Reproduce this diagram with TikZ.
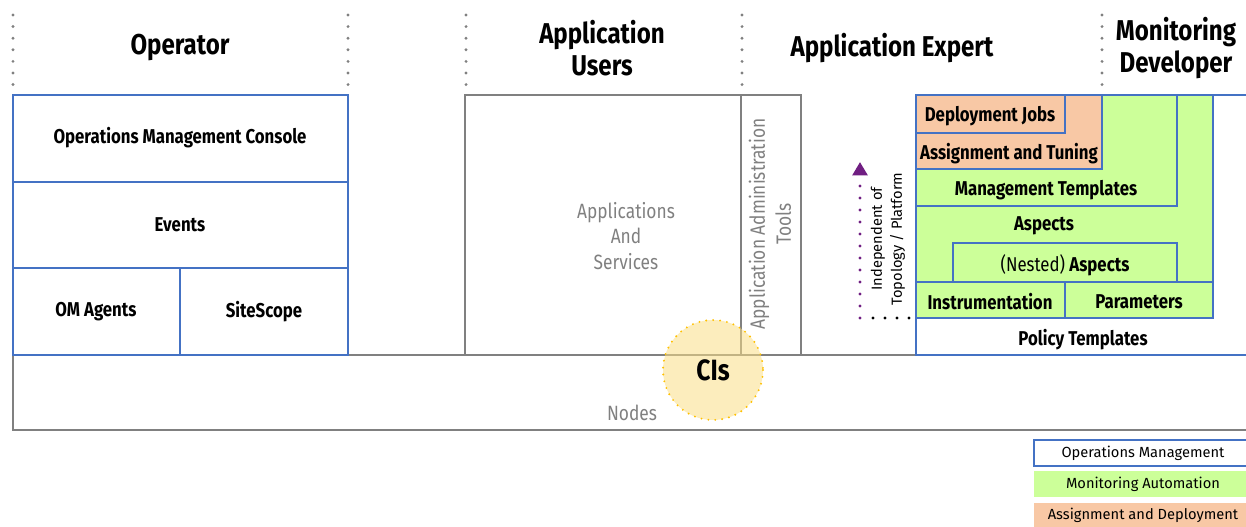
\documentclass[tikz,border=0pt]{standalone}
\usepackage{fontspec}
\setmainfont{Fira Sans}[FakeStretch=0.84]
\newfontfamily\widesans{Fira Sans}
\usepackage{tikz}
\usetikzlibrary{arrows.meta}

\definecolor{omblue}{RGB}{68,114,196}
\definecolor{magreen}{RGB}{204,255,153}
\definecolor{adorange}{RGB}{248,200,165}
\definecolor{linegray}{RGB}{128,128,128}
\definecolor{cifill}{RGB}{250,222,135}
\definecolor{cigold}{RGB}{255,192,0}
\definecolor{arrowpurple}{RGB}{112,30,130}

\tikzset{
  ombox/.style={draw=omblue, line width=1.5pt},
  graybox/.style={draw=linegray, line width=1.5pt},
  sepdots/.style={draw=linegray, line width=2.4pt, line cap=round, dash pattern=on 0pt off 8.7pt},
  headtxt/.style={font=\bfseries\fontsize{21.5}{24}\selectfont, align=center},
  boxtxt/.style={font=\bfseries\fontsize{15}{18}\selectfont, align=center},
  graytxt/.style={font=\fontsize{15.5}{19}\selectfont, text=linegray, align=center},
  legtxt/.style={font=\widesans\fontsize{11}{13}\selectfont},
}

\begin{document}
\begin{tikzpicture}[x=0.75pt,y=0.75pt,yscale=-1,xscale=1]
        \useasboundingbox (0,0) rectangle (1246,527);
        % role separators
        \foreach \x in {13,348,466,742,1102}{
            \draw [sepdots] (\x,15) -- (\x,88);
        }
        % roles
        \node [headtxt] (operator) at (180,48) {Operator};
        \node [headtxt] (appusers) at (602,48) {Application\\Users};
        \node [headtxt] (appexpert) at (892,48) {Application Expert};
        \node [headtxt] (mondev) at (1176,48) {Monitoring\\Developer};
        % nodes layer
        \draw [graybox] (1252,355) -- (13,355) -- (13,430) -- (1252,430) ;
        \node [graytxt] (nodes) at (632,413) {Nodes};
        % operator stack
        \draw [ombox] (13,95) rectangle (348,355) ;
        \draw [ombox] (13,182) -- (348,182) ;
        \draw [ombox] (13,268) -- (348,268) ;
        \draw [ombox] (180,268) -- (180,355) ;
        \node [boxtxt] (omconsole) at (180,138) {Operations Management Console};
        \node [boxtxt] (events) at (180,225) {Events};
        \node [boxtxt] (omagents) at (96,312) {OM Agents};
        \node [boxtxt] (sitescope) at (264,312) {SiteScope};
        % applications
        \draw [graybox] (465,355) -- (465,95) -- (801,95) -- (801,355) ;
        \draw [graybox] (741,95) -- (741,355) ;
        \node [graytxt] (appsvc) at (626,236) {Applications\\And\\Services};
        \node [graytxt, rotate=90, font=\fontsize{15.5}{19.5}\selectfont] (admintools) at (770,224) {Application Administration\\Tools};
        % policy templates
        \draw [ombox, fill=white] (1252,95) -- (916,95) -- (916,355) -- (1252,355) ;
        \draw [ombox, fill=magreen] (916,95) rectangle (1213,318) ;
        \draw [ombox, fill=magreen] (916,95) rectangle (1177,206) ;
        \draw [ombox, fill=adorange] (916,95) rectangle (1102,169) ;
        \draw [ombox, fill=adorange] (916,95) rectangle (1065,133) ;
        \draw [ombox, fill=magreen] (953,243) rectangle (1177,282) ;
        \draw [ombox] (916,282) -- (1213,282) ;
        \draw [ombox] (1065,282) -- (1065,318) ;
        \node [boxtxt] (deployjobs) at (990,116) {Deployment Jobs};
        \node [boxtxt] (assigntune) at (1009,154) {Assignment and Tuning};
        \node [boxtxt] (mgmttempl) at (1046,190) {Management Templates};
        \node [boxtxt] (aspects) at (1044,226) {Aspects};
        \node [boxtxt] (nested) at (1065,265) {\mdseries(Nested) \bfseries Aspects};
        \node [boxtxt] (instr) at (990,302) {Instrumentation};
        \node [boxtxt] (params) at (1139,302) {Parameters};
        \node [boxtxt] (policytempl) at (1083,340) {Policy Templates};
        % configuration items
        \draw [draw=cigold, fill=cifill, fill opacity=0.55, line width=1.6pt, line cap=round, dash pattern=on 0pt off 5.2pt] (713,370) circle (50) ;
        \node [font=\bfseries\fontsize{22}{24}\selectfont] (cis) at (713,370) {CIs};
        % independence arrow
        \coordinate (indepbase) at (860,318);
        \coordinate (indeptip) at (860,162);
        \coordinate (independ) at (912,318);
        \draw [arrowpurple, line width=2.6pt, line cap=round, dash pattern=on 0pt off 9pt, -{Triangle[width=11pt,length=10pt]}] (indepbase) -- (indeptip) ;
        \draw [black, line width=2.6pt, line cap=round, dash pattern=on 0pt off 9pt] (873,318) -- (independ) ;
        \node [font=\widesans\fontsize{11}{15}\selectfont, rotate=90, align=center] (indeptxt) at (888,239) {Independent of\\Topology / Platform};
        % legend
        \draw [ombox] (1034,440) rectangle (1252,466) ;
        \fill [magreen] (1034,471) rectangle (1252,497) ;
        \fill [adorange] (1034,503) rectangle (1252,529) ;
        \node [legtxt] (legom) at (1143,453) {Operations Management};
        \node [legtxt] (legma) at (1143,484) {Monitoring Automation};
        \node [legtxt] (legad) at (1143,515) {Assignment and Deployment};
    \end{tikzpicture}
\end{document}
